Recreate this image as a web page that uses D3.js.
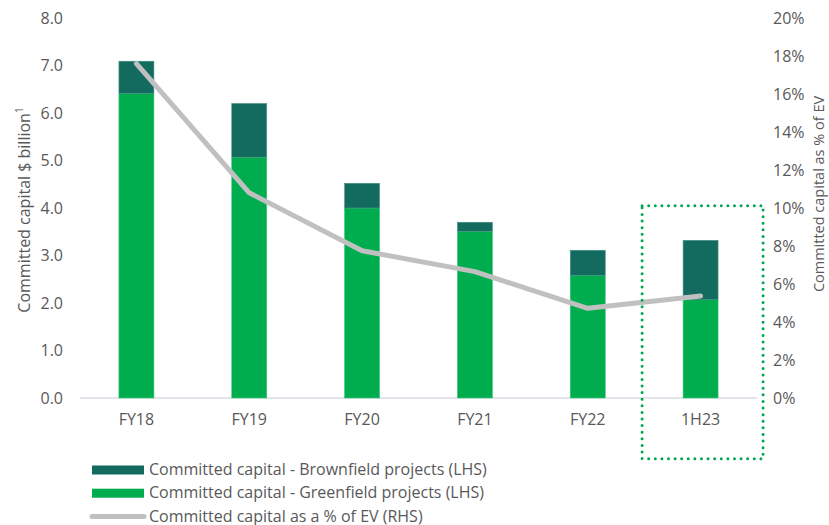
<!DOCTYPE html>
<html>
<head>
<meta charset="utf-8">
<script src="https://cdn.jsdelivr.net/npm/d3@7"></script>
<style>
  body { margin: 0; background: #fff; }
  text { font-family: "Open Sans", "Noto Sans", sans-serif; fill: #595959; }
</style>
</head>
<body>
<script>
// chart data
const periods = ["FY18", "FY19", "FY20", "FY21", "FY22", "1H23"];
const greenfield = [6.41, 5.07, 4.0, 3.51, 2.58, 2.07];
const brownfield = [0.68, 1.13, 0.52, 0.19, 0.53, 1.25];
const pctOfEV = [17.6, 10.8, 7.75, 6.65, 4.72, 5.37];
const leftTicks = [0, 1, 2, 3, 4, 5, 6, 7, 8];
const rightTicks = [0, 2, 4, 6, 8, 10, 12, 14, 16, 18, 20];

const W = 829, H = 525;
const plot = {left: 80, right: 757, top: 18, bottom: 398};
const fs = 16;

const svg = d3.select("body").append("svg")
    .attr("width", W)
    .attr("height", H);

const x = d3.scaleBand()
    .domain(periods)
    .range([plot.left, plot.right])
    .paddingInner(0.69)
    .paddingOuter(0.345);
const yL = d3.scaleLinear().domain([0, 8]).range([plot.bottom, plot.top]);
const yR = d3.scaleLinear().domain([0, 20]).range([plot.bottom, plot.top]);

const rows = periods.map((p, i) => ({period: p, green: greenfield[i], brown: brownfield[i], pct: pctOfEV[i]}));

// baseline
svg.append("line")
    .attr("x1", plot.left).attr("x2", plot.right)
    .attr("y1", yL(0)).attr("y2", yL(0))
    .attr("stroke", "#d9dde2").attr("stroke-width", 1.5);

// left axis
const axL = svg.append("g")
    .attr("transform", `translate(${plot.left},0)`)
    .call(d3.axisLeft(yL).tickValues(leftTicks).tickFormat(d3.format(".1f")).tickSize(0).tickPadding(17));
axL.select(".domain").remove();
axL.selectAll("text").attr("font-size", fs).attr("fill", "#595959").style("font-family", "'Open Sans'");

// right axis
const axR = svg.append("g")
    .attr("transform", `translate(${plot.right},0)`)
    .call(d3.axisRight(yR).tickValues(rightTicks).tickFormat(d => d + "%").tickSize(0).tickPadding(16));
axR.select(".domain").remove();
axR.selectAll("text").attr("font-size", fs).attr("fill", "#595959").style("font-family", "'Open Sans'");

// x axis labels
const axX = svg.append("g")
    .attr("transform", `translate(0,${plot.bottom})`)
    .call(d3.axisBottom(x).tickSize(0).tickPadding(16));
axX.select(".domain").remove();
axX.selectAll("text").attr("font-size", fs).attr("fill", "#595959").style("font-family", "'Open Sans'");

// axis titles
svg.append("text")
    .attr("transform", `translate(30,210) rotate(-90)`)
    .attr("text-anchor", "middle")
    .attr("font-size", fs)
    .text("Committed capital $ billion")
  .append("tspan")
    .attr("font-size", 10)
    .attr("dy", -7)
    .text("1");

svg.append("text")
    .attr("transform", `translate(824,194) rotate(-90)`)
    .attr("text-anchor", "middle")
    .attr("font-size", 14.5)
    .text("Committed capital as % of EV");

// stacked bars
svg.selectAll(".green")
    .data(rows)
  .enter().append("rect")
    .attr("class", "green")
    .attr("x", d => x(d.period))
    .attr("width", x.bandwidth())
    .attr("y", d => yL(d.green))
    .attr("height", d => yL(0) - yL(d.green))
    .attr("fill", "#00ad4e")
    .attr("stroke", "#3cc47c").attr("stroke-width", 0.6);

svg.selectAll(".brown")
    .data(rows)
  .enter().append("rect")
    .attr("class", "brown")
    .attr("x", d => x(d.period))
    .attr("width", x.bandwidth())
    .attr("y", d => yL(d.green + d.brown))
    .attr("height", d => yL(d.green) - yL(d.green + d.brown))
    .attr("fill", "#126b5e")
    .attr("stroke", "#4a9486").attr("stroke-width", 0.6);

// % of EV line
const line = d3.line()
    .x(d => x(d.period) + x.bandwidth() / 2)
    .y(d => yR(d.pct));

svg.append("path")
    .datum(rows)
    .attr("d", line)
    .attr("fill", "none")
    .attr("stroke", "#c0c0c0")
    .attr("stroke-width", 5)
    .attr("stroke-linecap", "round")
    .attr("stroke-linejoin", "round");

// dotted highlight around latest half
const last = periods[periods.length - 1];
const cx = x(last) + x.bandwidth() / 2;
svg.append("rect")
    .attr("x", cx - 58.5)
    .attr("y", yL(4.05))
    .attr("width", 121)
    .attr("height", 253)
    .attr("fill", "none")
    .attr("stroke", "#00a651")
    .attr("stroke-width", 3)
    .attr("stroke-dasharray", "0 6.6")
    .attr("stroke-linecap", "round");

// legend
const legendItems = [
  {label: "Committed capital - Brownfield projects (LHS)", type: "rect", color: "#126b5e"},
  {label: "Committed capital - Greenfield projects (LHS)", type: "rect", color: "#00ad4e"},
  {label: "Committed capital as a % of EV (RHS)", type: "line", color: "#c0c0c0"}
];

const legend = svg.selectAll(".legend")
    .data(legendItems)
  .enter().append("g")
    .attr("class", "legend")
    .attr("transform", (d, i) => `translate(92,${470 + i * 23.2})`);

legend.filter(d => d.type === "rect").append("rect")
    .attr("x", 0).attr("y", -4.5)
    .attr("width", 52).attr("height", 9)
    .attr("fill", d => d.color);

legend.filter(d => d.type === "line").append("line")
    .attr("x1", 0).attr("x2", 52)
    .attr("y1", 0).attr("y2", 0)
    .attr("stroke", d => d.color)
    .attr("stroke-width", 5)
    .attr("stroke-linecap", "round");

legend.append("text")
    .attr("x", 57)
    .attr("dy", "0.33em")
    .attr("font-size", fs)
    .text(d => d.label);
</script>
</body>
</html>
